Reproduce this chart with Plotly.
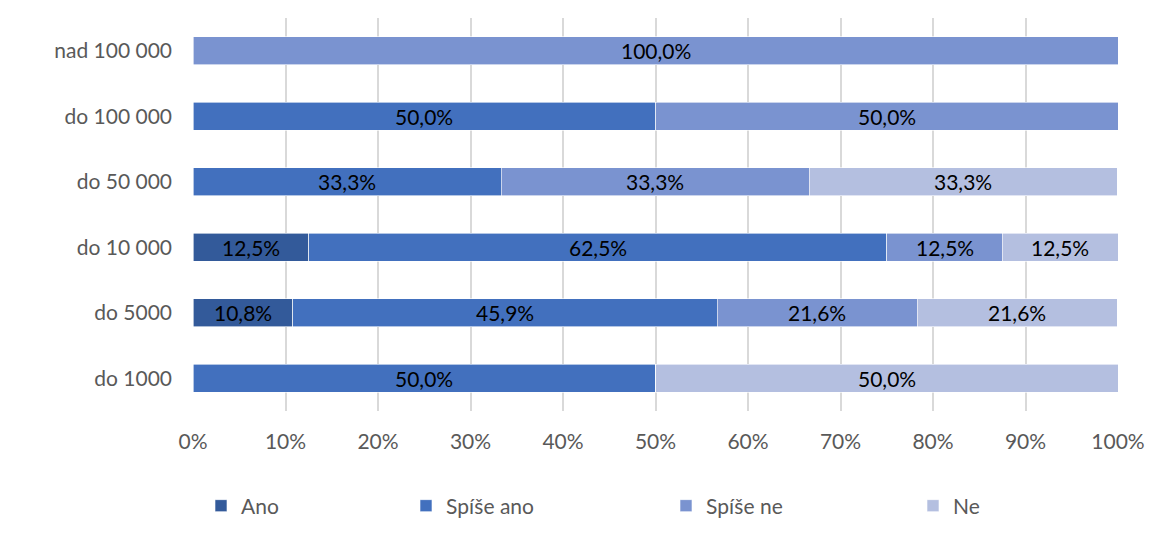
import plotly.graph_objects as go

categories = ["do 1000", "do 5000", "do 10 000", "do 50 000", "do 100 000", "nad 100 000"]
series_names = ["Ano", "Spíše ano", "Spíše ne", "Ne"]
ano = [0, 10.8, 12.5, 0, 0, 0]
spise_ano = [50.0, 45.9, 62.5, 33.3, 50.0, 0]
spise_ne = [0, 21.6, 12.5, 33.3, 50.0, 100.0]
ne = [50.0, 21.6, 12.5, 33.3, 0, 0]
tick_vals = [0, 10, 20, 30, 40, 50, 60, 70, 80, 90, 100]
tick_text = [f"{v}%" for v in tick_vals]

colors = ["#335A9A", "#4270BE", "#7A93D0", "#B4BFE0"]
FONT = "Lato, Open Sans, sans-serif"
TXT = "#595959"

# figure geometry (page has an 8px body margin)
W, H = 1159, 537
ml, mr, mt, mb = 185, 49, 10, 134
pw = W - ml - mr
ph = H - mt - mb

legend_left_px = [193, 398, 658, 905]  # legend box left edges in figure pixels
legend_y_px = 498

fig = go.Figure()
all_series = [ano, spise_ano, spise_ne, ne]
legend_ids = ["legend", "legend2", "legend3", "legend4"]
for name, vals, col, lid in zip(series_names, all_series, colors, legend_ids):
    fig.add_trace(go.Bar(
        y=categories, x=vals, name=name, orientation="h",
        marker=dict(color=col, line=dict(color="white", width=0.6)),
        width=0.43, hoverinfo="skip", legend=lid,
    ))

# value labels centred in each segment, computed from the data
cum = [0.0] * len(categories)
for vals in all_series:
    for i, v in enumerate(vals):
        if v > 0:
            fig.add_annotation(
                x=cum[i] + v / 2, y=categories[i], xref="x", yref="y",
                text=f"{v:.1f}".replace(".", ",") + "%", showarrow=False,
                font=dict(family=FONT, size=21, color="black"),
                xanchor="center", yanchor="middle",
            )
        cum[i] += v

layout_legends = {}
for lid, lx in zip(legend_ids, legend_left_px):
    layout_legends[lid] = dict(
        x=(lx - ml) / pw, xanchor="left",
        y=(H - mb - legend_y_px) / ph, yanchor="middle",
        orientation="h", font=dict(family=FONT, size=21, color=TXT),
        bgcolor="rgba(0,0,0,0)", itemclick=False, itemdoubleclick=False,
    )

fig.update_layout(
    barmode="stack",
    width=W, height=H,
    margin=dict(l=ml, r=mr, t=mt, b=mb, pad=0),
    plot_bgcolor="white", paper_bgcolor="white",
    font=dict(family=FONT, color=TXT, size=21),
    xaxis=dict(range=[0, 100], tickvals=tick_vals, ticktext=tick_text,
               showgrid=True, gridcolor="#D9D9D9", gridwidth=1.5,
               zeroline=False, showline=False, ticks="",
               ticklabelstandoff=16,
               tickfont=dict(family=FONT, size=21, color=TXT)),
    yaxis=dict(categoryorder="array", categoryarray=categories,
               showgrid=False, zeroline=False, showline=False,
               ticks="", ticklabelstandoff=20,
               tickfont=dict(family=FONT, size=21, color=TXT)),
    showlegend=True,
    **layout_legends,
)

fig.write_html("out.html")
